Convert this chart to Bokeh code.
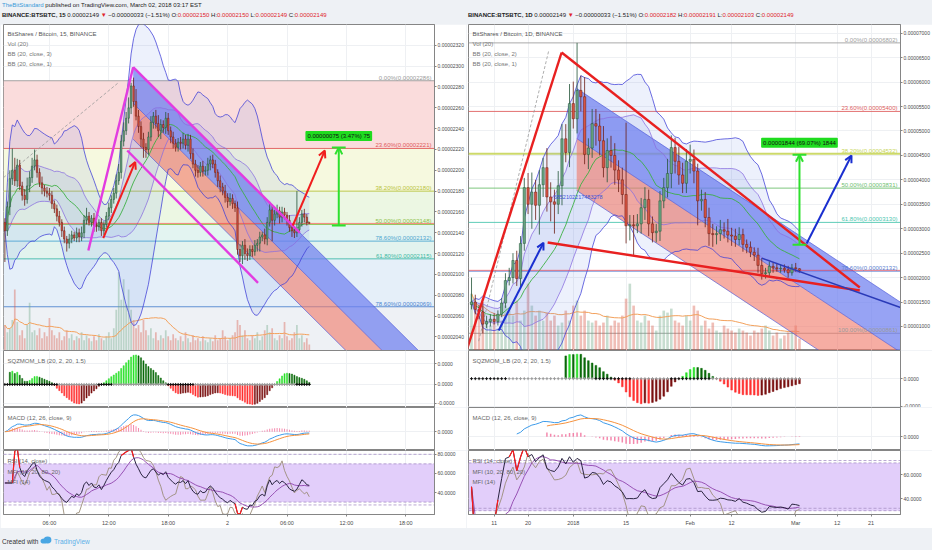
import numpy as np
import pandas as pd
from bokeh.plotting import figure
from bokeh.layouts import column, row
from bokeh.models import (Range1d, FixedTicker, CustomJSTickFormatter, PrintfTickFormatter,
                          Label, Arrow, OpenHead, Div)
from bokeh.core.properties import value
from bokeh.embed import file_html
from bokeh.resources import INLINE

FONT = "Liberation Sans"

# ======================= LEFT: BTSBTC 15 min (prices in satoshi) =======================
l_first_hour = 1.5          # hours after Mar 1 00:00 of the first bar
l_bar_hours = 0.25
l_open_first = 2150
l_close = [2142, 2165, 2192, 2200, 2190, 2205, 2185, 2176, 2172, 2185,
           2193, 2204, 2210, 2198, 2188, 2183, 2180, 2178, 2176, 2168,
           2163, 2156, 2150, 2142, 2134, 2130, 2134, 2138, 2135, 2140,
           2136, 2140, 2152, 2156, 2150, 2154, 2147, 2146, 2150, 2142,
           2148, 2156, 2164, 2172, 2178, 2190, 2198, 2228, 2238, 2250,
           2260, 2281, 2266, 2252, 2242, 2230, 2222, 2220, 2232, 2246,
           2252, 2245, 2238, 2244, 2241, 2250, 2238, 2232, 2226, 2222,
           2227, 2226, 2230, 2224, 2230, 2216, 2206, 2200, 2198, 2204,
           2199, 2200, 2206, 2210, 2206, 2198, 2190, 2184, 2180, 2174,
           2170, 2173, 2168, 2164, 2124, 2118, 2128, 2120, 2118, 2124,
           2122, 2128, 2130, 2136, 2138, 2134, 2150, 2162, 2152, 2158,
           2161, 2155, 2160, 2157, 2152, 2145, 2142, 2140, 2143, 2150,
           2158, 2155, 2150, 2149]
l_upper_wick = [4, 5, 8, 21, 12, 6, 5, 4, 6, 8,
                6, 8, 10, 5, 4, 6, 3, 4, 5, 4,
                3, 4, 5, 3, 4, 3, 5, 4, 3, 5,
                4, 6, 5, 8, 4, 3, 5, 4, 3, 4,
                3, 4, 5, 4, 5, 6, 8, 6, 8, 6,
                10, 3, 8, 12, 6, 5, 6, 4, 5, 6,
                4, 6, 8, 5, 4, 6, 5, 4, 5, 4,
                4, 5, 6, 4, 5, 4, 5, 4, 5, 4,
                5, 4, 6, 4, 5, 4, 3, 5, 4, 6,
                4, 5, 4, 3, 6, 5, 4, 6, 5, 4,
                4, 5, 4, 5, 3, 6, 5, 8, 5, 4,
                6, 4, 5, 4, 3, 5, 4, 3, 37, 5,
                4, 5, 3, 0]
l_lower_wick = [30, 5, 8, 6, 5, 6, 4, 5, 6, 4,
                6, 5, 4, 5, 4, 6, 5, 4, 5, 5,
                4, 5, 4, 6, 4, 8, 5, 4, 3, 4,
                5, 4, 5, 4, 3, 4, 6, 5, 4, 5,
                4, 3, 4, 5, 4, 5, 4, 6, 5, 4,
                5, 6, 5, 4, 6, 8, 10, 8, 5, 4,
                6, 5, 6, 8, 5, 6, 4, 6, 5, 4,
                4, 6, 5, 4, 6, 5, 4, 6, 5, 4,
                5, 4, 5, 6, 4, 5, 6, 5, 4, 5,
                6, 4, 5, 4, 5, 6, 8, 6, 5, 4,
                5, 4, 6, 8, 4, 5, 6, 4, 20, 5,
                4, 6, 5, 4, 5, 4, 6, 5, 4, 3,
                4, 5, 3, 0]
l_volume = [25, 18, 22, 30, 60, 28, 15, 20, 12, 25,
            47, 18, 20, 15, 22, 12, 18, 14, 32, 20,
            15, 12, 18, 10, 14, 20, 12, 16, 10, 14,
            12, 18, 10, 15, 12, 9, 14, 10, 16, 12,
            10, 14, 18, 12, 22, 40, 77, 50, 70, 45,
            60, 40, 30, 22, 25, 18, 30, 20, 15, 22,
            12, 18, 10, 15, 12, 20, 14, 10, 16, 12,
            10, 14, 9, 18, 12, 8, 15, 10, 12, 9,
            14, 10, 8, 12, 9, 15, 10, 12, 20, 14,
            10, 12, 15, 18, 30, 25, 15, 20, 12, 10,
            15, 12, 18, 10, 14, 20, 25, 18, 22, 12,
            10, 15, 12, 28, 14, 10, 12, 18, 25, 12,
            15, 8, 12, 6]
l_x_ticks = [6, 12, 18, 24, 30, 36, 42]
l_x_labels = ["06:00", "12:00", "18:00", "2", "06:00", "12:00", "18:00"]
l_x_range = [1.36, 44.9]
l_y_range = [2027, 2340]
l_y_ticks = [2040, 2060, 2080, 2100, 2120, 2140, 2160, 2180, 2200, 2220, 2240, 2260, 2280, 2300, 2320]
l_fib_levels = [2286, 2221, 2180, 2148, 2132, 2115, 2069]
l_fib_names = ["0.00%", "23.60%", "38.20%", "50.00%", "78.60%", "61.80%", "78.60%"]
l_fib_colors = ["#9a9a9a", "#e05a5a", "#b9c43c", "#8cc04a", "#4da6cf", "#3cb8a4", "#4f86cf"]
l_fib_zone_colors = ["#fadcdc", "#f6f9df", "#ecf7e3", "#e3f4f1", "#e2f3ee", "#e5eff9", "#eef1f5"]
l_trend_dashed = ([1.36, 12.95], [2193, 2284])
l_pink_lines = [((9.93, 2123), (14.46, 2299)),
                ((14.46, 2299), (31.3, 2140)),
                ((13.86, 2219), (27.07, 2092))]
l_band_anchor = (14.46, 2299)
l_band_slope = -9.44          # satoshi per hour
l_band_widths = [34.6, 34.6]  # blue, red
l_arrows = [((11.44, 2135), (14.67, 2208)), ((30.59, 2147), (33.82, 2219))]
l_arrow_color = "#f01e1e"
l_measure = (35.23, 2147, 2222)
l_measure_label = ("0.00000075 (3.47%) 75", 2233)
l_last_price = 2149
l_title = ["BitShares / Bitcoin, 15, BINANCE", "Vol (20)", "BB (20, close, 3)", "BB (20, close, 1)"]
l_bb_mults = [3, 1]

# ======================= RIGHT: BTSBTC 1 day =======================
r_first_day = -27           # days from 2018-01-01 of the first bar
r_open_first = 1450
r_close = [1500, 1350, 1300, 1050, 1100, 1150, 1100, 1250, 1480, 1940,
           2000, 2350, 1980, 2700, 3840, 3500, 3750, 3480, 3900, 4250,
           3650, 3550, 3500, 3880, 4840, 4560, 5560, 5250, 5830, 5700,
           4520, 4650, 5150, 5100, 4800, 4250, 4600, 4500, 4200, 4000,
           3700, 3060, 3080, 3060, 3100, 3430, 3600, 3100, 2920, 2950,
           3570, 3840, 4130, 4660, 4380, 4100, 3930, 4380, 4420, 4180,
           3570, 3600, 3230, 2900, 2880, 2900, 2980, 2950, 2870, 2850,
           2780, 2880, 2680, 2620, 2520, 2460, 2250, 2080, 2100, 2230,
           2200, 2180, 2190, 2160, 2100, 2200, 2182, 2149]
r_upper_wick = [500, 150, 100, 200, 120, 100, 120, 80, 100, 150,
                200, 150, 200, 150, 200, 300, 400, 250, 300, 200,
                400, 300, 250, 300, 300, 300, 400, 450, 972, 300,
                400, 200, 300, 300, 250, 300, 250, 300, 250, 200,
                250, 1470, 200, 200, 200, 200, 250, 200, 150, 150,
                200, 200, 300, 250, 200, 300, 250, 250, 300, 200,
                150, 200, 150, 200, 200, 150, 200, 150, 250, 150,
                150, 150, 120, 100, 120, 100, 150, 150, 100, 100,
                80, 100, 80, 80, 80, 80, 100, 9]
r_lower_wick = [100, 100, 150, 190, 80, 100, 60, 80, 60, 100,
                100, 120, 150, 200, 150, 200, 500, 300, 600, 250,
                300, 400, 600, 200, 400, 200, 300, 200, 300, 300,
                200, 300, 200, 400, 300, 200, 300, 250, 300, 250,
                200, 360, 300, 600, 150, 200, 250, 250, 200, 200,
                200, 150, 200, 300, 250, 200, 200, 200, 250, 250,
                500, 200, 200, 250, 250, 200, 150, 150, 150, 200,
                150, 120, 150, 120, 100, 120, 150, 120, 100, 80,
                100, 60, 80, 60, 100, 60, 60, 46]
r_volume = [57, 40, 35, 45, 30, 25, 28, 22, 30, 45,
            40, 35, 50, 30, 40, 67, 45, 35, 40, 30,
            38, 30, 35, 25, 28, 40, 30, 45, 50, 35,
            40, 30, 28, 30, 25, 28, 35, 25, 30, 28,
            35, 52, 67, 45, 30, 28, 35, 30, 25, 20,
            35, 40, 38, 42, 30, 28, 25, 35, 30, 45,
            40, 25, 30, 22, 28, 20, 18, 25, 22, 20,
            18, 22, 20, 18, 15, 20, 18, 22, 25, 20,
            15, 18, 12, 15, 18, 20, 25, 12]
r_x_ticks = [-21, -12, 0, 14, 31, 42, 59, 70, 79]
r_x_labels = ["11", "20", "2018", "15", "Feb", "12", "Mar", "12", "21"]
r_x_range = [-27.8, 86.8]
r_y_range = [509, 7178]
r_y_ticks = [1000, 1500, 2000, 2500, 3000, 3500, 4000, 4500, 5000, 5500, 6000, 6500, 7000]
r_fib_levels = [6802, 5400, 4532, 3831, 3130, 2132, 861]
r_fib_names = ["0.00%", "23.60%", "38.20%", "50.00%", "61.80%", "78.60%", "100.00%"]
r_fib_colors = ["#a0a0a0", "#e06060", "#c8d55a", "#70c070", "#4cc6b0", "#5a80d0", "#9a9a9a"]
r_fib_widths = [1, 1, 2, 1, 1, 1, 1]
r_trend_dashed = ([-25.1, -6.5], [700, 6646])
r_red_lines = [((-28.3, 509), (-3.1, 6605)),
               ((-3.1, 6605), (76.0, 1797)),
               ((-6.8, 2718), (76.0, 1736))]
r_band_anchor = (0.9, 5869)
r_band_slope = -50.9          # satoshi per day
r_band_widths = [1023, 1064]
r_dark_line = ([50, 86.8], [2397, 1388])
r_arrows = [((-19.8, 918), (-7.9, 2714)), ((61.9, 2697), (73.8, 4498))]
r_arrow_color = "#1a2fd0"
r_measure = (60.0, 2670, 4514)
r_measure_label = ("0.00001844 (69.07%) 1844", 4760)
r_note = (-5.2, 3655, "6852102217483278")
r_last_price = 2149
r_title = ["BitShares / Bitcoin, 1D, BINANCE", "Vol (20)", "BB (20, close, 2)", "BB (20, close, 1)"]
r_bb_mults = [2, 1]
r_sqz_start, r_macd_start, r_signal_start = 25, 12, 20

sub_titles = ["SQZMOM_LB (20, 2, 20, 1.5)", "MACD (12, 26, close, 9)",
              "RSI (14, close)", "MFI (10, 20, 80, 20)", "MFI (14)"]
l_rsi_range, r_rsi_range = [17, 84], [26.8, 80.4]
l_rsi_ticks, r_rsi_ticks = [40, 60, 80], [40, 60]
l_rsi_dash, r_rsi_dash = [80, 70, 30, 27], [72, 70, 32, 30]

# ======================= layout sizes =======================
W = 466
H_HEAD, H_MAIN, H_SQZ, H_MACD, H_RSI, H_FOOT = 24, 326, 57, 43, 78, 22

GREEN, RED = "#6ba583", "#d75442"
GREEN_E, RED_E = "#225437", "#6b1d14"


def ohlc(open_first, close, uw, lw):
    c = np.array(close, float)
    o = np.concatenate([[open_first], c[:-1]])
    h = np.maximum(o, c) + np.array(uw, float)
    l = np.minimum(o, c) - np.array(lw, float)
    return o, h, l, c


def bollinger(c, n, k):
    s = pd.Series(c)
    m = s.rolling(n, min_periods=1).mean()
    sd = s.rolling(n, min_periods=1).std(ddof=0)
    return m.values, (m + k * sd).values, (m - k * sd).values


def rsi(c, n=14):
    d = pd.Series(c).diff().fillna(0)
    up = d.clip(lower=0).ewm(alpha=1 / n, adjust=False).mean()
    dn = (-d.clip(upper=0)).ewm(alpha=1 / n, adjust=False).mean()
    return (100 - 100 / (1 + up / dn.replace(0, np.nan))).fillna(50).values


def mfi(h, l, c, v, n=14):
    tp = pd.Series((h + l + c) / 3)
    mf = tp * np.array(v, float)
    d = tp.diff()
    pos = mf.where(d > 0, 0.0).rolling(n, min_periods=1).sum()
    neg = mf.where(d < 0, 0.0).rolling(n, min_periods=1).sum()
    return (100 - 100 / (1 + pos / neg.replace(0, np.nan))).fillna(50).values


def squeeze(c, h, l, n=20, mult=2.0, kc=1.5):
    cs, hs, ls = pd.Series(c), pd.Series(h), pd.Series(l)
    basis = cs.rolling(n, min_periods=1).mean()
    dev = mult * cs.rolling(n, min_periods=1).std(ddof=0)
    rng = (hs - ls).rolling(n, min_periods=1).mean()
    on = ((basis - dev) > (basis - kc * rng)) & ((basis + dev) < (basis + kc * rng))
    off = ((basis - dev) < (basis - kc * rng)) & ((basis + dev) > (basis + kc * rng))
    mid = ((hs.rolling(n, min_periods=1).max() + ls.rolling(n, min_periods=1).min()) / 2 + basis) / 2
    src = (cs - mid).values
    val = np.full(len(c), np.nan)
    for i in range(len(c)):
        seg = src[max(0, i - n + 1):i + 1]
        if len(seg) >= 3:
            xx = np.arange(len(seg))
            a, b = np.polyfit(xx, seg, 1)
            val[i] = a * (len(seg) - 1) + b
    dots = np.where(on, "#111111", np.where(off, "#9a9a9a", "#2962ff"))
    return val, list(dots)


def style(p, ticks, fmt):
    p.background_fill_color = "white"
    p.border_fill_color = "white"
    p.outline_line_color = "#858585"
    p.grid.grid_line_color = "#eef0f3"
    ax = p.yaxis[0]
    ax.ticker = FixedTicker(ticks=ticks)
    ax.formatter = fmt
    p.ygrid.ticker = FixedTicker(ticks=ticks)
    ax.major_label_text_font_size = "5px"
    ax.major_label_text_font = FONT
    ax.major_label_text_color = "#4a4a4a"
    ax.axis_line_color = "#858585"
    ax.major_tick_line_color = "#858585"
    ax.major_tick_in = 0
    ax.major_tick_out = 2
    ax.minor_tick_line_color = None
    ax.major_label_standoff = 1


def base_fig(cfg, xr, yr, height, show_x=False):
    p = figure(width=W, height=height, x_range=xr, y_range=yr, output_backend="svg",
               toolbar_location=None, y_axis_location="right",
               min_border_left=cfg["bl"], min_border_right=cfg["br"], min_border_top=0,
               min_border_bottom=0)
    xticks = cfg["xticks"]
    p.xgrid.ticker = FixedTicker(ticks=xticks)
    xa = p.xaxis[0]
    xa.ticker = FixedTicker(ticks=xticks)
    xa.major_label_overrides = {t: s for t, s in zip(xticks, cfg["xlabels"])}
    xa.major_label_text_font_size = "5.5px"
    xa.major_label_text_font = FONT
    xa.major_label_text_color = "#4a4a4a"
    xa.axis_line_color = "#858585"
    xa.major_tick_line_color = "#858585"
    xa.major_tick_in = 0
    xa.major_tick_out = 2
    xa.minor_tick_line_color = None
    xa.major_label_standoff = 3
    xa.visible = show_x
    return p


def legend(p, xr, yr, lines, colors, offsets):
    n = len(lines)
    p.text(x=[xr[0]] * n, y=[yr[1]] * n, text=lines, x_offset=4, y_offset=offsets,
           text_font=value(FONT), text_font_size="6px", text_color=colors,
           text_baseline="middle", text_align="left")


def line_ext(anchor, slope, x1):
    x0, y0 = anchor
    return [x0, x1], [y0, y0 + slope * (x1 - x0)]


def build(cfg):
    o, h, l, c = ohlc(cfg["open_first"], cfg["close"], cfg["uw"], cfg["lw"])
    n = len(c)
    t = cfg["t0"] + cfg["step"] * np.arange(n)
    bw = cfg["step"]
    vol = np.array(cfg["volume"], float)
    xr0, xr1 = cfg["xrange"]
    yr0, yr1 = cfg["yrange"]
    xr = Range1d(xr0, xr1)
    sat_fmt = CustomJSTickFormatter(code="return (tick*1e-8).toFixed(8);")

    # ---------------- main price pane ----------------
    p = base_fig(cfg, xr, Range1d(yr0, yr1), H_MAIN)
    style(p, cfg["yticks"], sat_fmt)
    lv = cfg["fib_levels"]
    if cfg.get("zones"):
        tops = lv
        bots = lv[1:] + [yr0]
        p.quad(left=xr0, right=xr1, top=tops, bottom=bots, fill_color=cfg["zones"], line_color=None)
    p.segment(x0=[xr0] * len(lv), x1=[xr1] * len(lv), y0=lv, y1=lv, line_color=cfg["fib_colors"],
              line_width=cfg.get("fib_widths", 1), line_alpha=0.9)
    # volume
    p.extra_y_ranges = {"vol": Range1d(0, vol.max() / cfg["vol_frac"])}
    up = c >= o
    p.vbar(x=t, width=bw * 0.7, top=vol, bottom=0, y_range_name="vol",
           fill_color=[GREEN if u else RED for u in up], line_color=None, fill_alpha=0.38)
    p.line(t, pd.Series(vol).rolling(20, min_periods=1).mean().values, y_range_name="vol",
           line_color="#f3a15c", line_width=1)
    # bollinger bands
    m1, u1, d1 = bollinger(c, 20, cfg["bb"][0])
    m2, u2, d2 = bollinger(c, 20, cfg["bb"][1])
    p.varea(x=t, y1=u1, y2=d1, fill_color="#6f88e6", fill_alpha=0.12)
    p.varea(x=t, y1=u2, y2=d2, fill_color="#6f88e6", fill_alpha=0.14)
    # channel bands
    ux, uy = line_ext(cfg["band_anchor"], cfg["band_slope"], xr1)
    wb, wr = cfg["band_widths"]
    p.patch([ux[0], ux[1], ux[1], ux[0]], [uy[0], uy[1], uy[1] - wb, uy[0] - wb],
            fill_color="#6f7ff0", fill_alpha=0.72, line_color=None)
    p.patch([ux[0], ux[1], ux[1], ux[0]], [uy[0] - wb, uy[1] - wb, uy[1] - wb - wr, uy[0] - wb - wr],
            fill_color="#f07a6a", fill_alpha=0.62, line_color=None)
    for off in (0, wb, wb + wr):
        p.line(ux, [uy[0] - off, uy[1] - off], line_color="#4a55d8", line_width=0.8, line_alpha=0.8)
    p.line(t, u1, line_color="#3f3fd8", line_width=0.9, line_alpha=0.85)
    p.line(t, d1, line_color="#3f3fd8", line_width=0.9, line_alpha=0.85)
    p.line(t, u2, line_color="#8a6fe0", line_width=0.9, line_alpha=0.85)
    p.line(t, d2, line_color="#8a6fe0", line_width=0.9, line_alpha=0.85)
    p.line(t, m1, line_color="#3cb043", line_width=0.9)
    # fib trend (dashed)
    p.line(cfg["trend"][0], cfg["trend"][1], line_color="#9a9a9a", line_dash="3 2", line_width=0.8)
    # last price line
    p.line([xr0, xr1], [cfg["last"], cfg["last"]], line_color="#ff3030", line_width=0.7, line_alpha=0.8)
    # candles
    edge = [GREEN_E if u else RED_E for u in up]
    p.segment(x0=t, x1=t, y0=h, y1=l, line_color=edge, line_width=0.8)
    p.vbar(x=t, width=bw * cfg["body"], top=np.maximum(o, c), bottom=np.minimum(o, c),
           fill_color=[GREEN if u else RED for u in up], line_color=edge, line_width=0.5)
    # drawings
    for (xa_, ya_), (xb_, yb_) in cfg["draw_lines"]:
        p.line([xa_, xb_], [ya_, yb_], line_color=cfg["draw_color"], line_width=2.4)
    if cfg.get("dark_line"):
        p.line(cfg["dark_line"][0], cfg["dark_line"][1], line_color="#2a3ab8", line_width=1.4)
    for (xa_, ya_), (xb_, yb_) in cfg["arrows"]:
        p.add_layout(Arrow(end=OpenHead(size=7, line_color=cfg["arrow_color"], line_width=2),
                           x_start=xa_, y_start=ya_, x_end=xb_, y_end=yb_,
                           line_color=cfg["arrow_color"], line_width=2))
    mx, my0, my1 = cfg["measure"]
    half = (xr1 - xr0) * 0.016
    p.add_layout(Arrow(end=OpenHead(size=7, line_color="#2ee02e", line_width=2),
                       x_start=mx, y_start=my0, x_end=mx, y_end=my1,
                       line_color="#2ee02e", line_width=2))
    p.segment(x0=[mx - half] * 2, x1=[mx + half] * 2, y0=[my0, my1], y1=[my0, my1],
              line_color="#2ee02e", line_width=2)
    p.add_layout(Label(x=mx, y=cfg["measure_label"][1], text=cfg["measure_label"][0],
                       text_align="center", text_baseline="middle", text_font=FONT,
                       text_font_size="6px", text_color="#111111",
                       background_fill_color="#1fdc1f", padding=2, border_radius=1))
    if cfg.get("note"):
        nx, ny, ntxt = cfg["note"]
        p.text(x=[nx], y=[ny], text=[ntxt], text_font=value(FONT), text_font_size="5.5px",
               text_color="#3a55d8", text_baseline="middle")
    # fib labels
    flabels = [f"{nm}({lvl * 1e-8:.8f})" for nm, lvl in zip(cfg["fib_names"], lv)]
    p.text(x=[xr1] * len(lv), y=lv, text=flabels, x_offset=-3, text_align="right",
           text_baseline="bottom", text_font=value(FONT), text_font_size="6px",
           text_color=cfg["fib_colors"])
    legend(p, (xr0, xr1), (yr0, yr1), cfg["title"], ["#555555", "#777777", "#777777", "#777777"],
           [9, 19, 29, 39])
    # price label on axis
    p.add_layout(Label(x=xr1, y=cfg["last"], x_offset=1, text=f"{cfg['last'] * 1e-8:.8f}",
                       text_baseline="middle", text_align="left", text_font=FONT,
                       text_font_size="5px", text_color="white",
                       background_fill_color="#ff1e1e", padding=1))
    if cfg.get("countdown"):
        p.add_layout(Label(x=xr1, y=cfg["last"] - 9, x_offset=15, text=cfg["countdown"],
                           text_baseline="middle", text_align="left", text_font=FONT,
                           text_font_size="5px", text_color="white",
                           background_fill_color="#ff1e1e", padding=1))

    # ---------------- SQZMOM ----------------
    val, dots = squeeze(c, h, l)
    val[:cfg.get("sqz_start", 0)] = np.nan
    prev = np.concatenate([[np.nan], val[:-1]])
    scol = ["#2be02b" if (v > 0 and v > pv) else "#0a6a0a" if v > 0 else
            "#ff3030" if (v < pv) else "#7a1010" for v, pv in zip(val, prev)]
    hi, lo = np.nanmax(val) * 1.15, np.nanmin(val) * 1.15
    q = base_fig(cfg, xr, Range1d(lo, hi), H_SQZ)
    style(q, cfg["sqz_ticks"](lo, hi, np.nanmin(val), np.nanmax(val)),
          CustomJSTickFormatter(code="return (tick*1e-8).toFixed(4);"))
    q.vbar(x=t, width=bw * 0.45, top=val, bottom=0, fill_color=scol, line_color=scol, line_width=0.5)
    q.scatter(x=t, y=np.zeros(n), marker="cross", size=3, line_color=dots, line_width=1)
    legend(q, (xr0, xr1), (lo, hi), [sub_titles[0]], ["#666666"], [10])

    # ---------------- MACD ----------------
    cs = pd.Series(c)
    macd = (cs.ewm(span=12, adjust=False).mean() - cs.ewm(span=26, adjust=False).mean()).values
    sig = pd.Series(macd).ewm(span=9, adjust=False).mean().values
    macd = macd.copy()
    macd[:cfg.get("macd_start", 0)] = np.nan
    sig[:cfg.get("signal_start", 0)] = np.nan
    hist = macd - sig
    allv = np.concatenate([macd, sig, hist])
    mhi, mlo = np.nanmax(allv), np.nanmin(allv)
    pad = (mhi - mlo) * 0.15
    mr = base_fig(cfg, xr, Range1d(mlo - pad, mhi + pad * 1.6), H_MACD)
    style(mr, [0], CustomJSTickFormatter(code="return (tick*1e-8).toFixed(4);"))
    mr.vbar(x=t, width=bw * 0.4, top=hist, bottom=0, fill_color="#f06292", line_color=None, fill_alpha=0.75)
    mr.line(t, macd, line_color="#3d9be9", line_width=1)
    mr.line(t, sig, line_color="#f5923e", line_width=1)
    legend(mr, (xr0, xr1), (mlo - pad, mhi + pad * 1.6), [sub_titles[1]], ["#666666"], [10])

    # ---------------- RSI ----------------
    rr0, rr1 = cfg["rsi_range"]
    rp = base_fig(cfg, xr, Range1d(rr0, rr1), H_RSI, show_x=True)
    style(rp, cfg["rsi_ticks"], PrintfTickFormatter(format="%.4f"))
    rp.varea(x=[xr0, xr1], y1=[70, 70], y2=[30, 30], fill_color="#e0cbfa", fill_alpha=0.95)
    dl = cfg["rsi_dash"]
    rp.segment(x0=[xr0] * len(dl), x1=[xr1] * len(dl), y0=dl, y1=dl, line_color="#a890c8",
               line_dash="3 2", line_width=0.8)
    r_ = rsi(c)
    mf = mfi(h, l, c, vol)
    rma = pd.Series(r_).rolling(10, min_periods=1).mean().values
    rp.line(t, mf, line_color="#9b8c78", line_width=0.9)
    rp.line(t, rma, line_color="#8e44ad", line_width=0.9)
    rp.line(t, r_, line_color="#2a2440", line_width=1)
    ext = (r_ > 80) | (r_ < 20)
    near = ext | np.concatenate([ext[1:], [False]]) | np.concatenate([[False], ext[:-1]])
    rp.line(t, np.where(near, r_, np.nan), line_color="#ff1a1a", line_width=1.2)
    legend(rp, (xr0, xr1), (rr0, rr1), sub_titles[2:], ["#666666"] * 3, [10, 21, 31])

    return column(p, q, mr, rp, spacing=0)


def l_sqz_ticks(lo, hi, vmin, vmax):
    return [0.7 * vmax, 0, 0.95 * vmin]


def r_sqz_ticks(lo, hi, vmin, vmax):
    return [0, 0.97 * lo]


left_cfg = dict(open_first=l_open_first, close=l_close, uw=l_upper_wick, lw=l_lower_wick,
                volume=l_volume, t0=l_first_hour, step=l_bar_hours, body=0.6, vol_frac=0.24,
                xrange=l_x_range, yrange=l_y_range, xticks=l_x_ticks, xlabels=l_x_labels,
                yticks=l_y_ticks, fib_levels=l_fib_levels, fib_names=l_fib_names,
                fib_colors=l_fib_colors, zones=l_fib_zone_colors, bb=l_bb_mults,
                band_anchor=l_band_anchor, band_slope=l_band_slope, band_widths=l_band_widths,
                trend=l_trend_dashed, last=l_last_price, draw_lines=l_pink_lines,
                draw_color="#e23ce0", arrows=l_arrows, arrow_color=l_arrow_color,
                measure=l_measure, measure_label=l_measure_label, title=l_title,
                countdown="12:34", sqz_ticks=l_sqz_ticks, rsi_range=l_rsi_range,
                rsi_ticks=l_rsi_ticks, rsi_dash=l_rsi_dash, bl=3, br=31)

right_cfg = dict(open_first=r_open_first, close=r_close, uw=r_upper_wick, lw=r_lower_wick,
                 volume=r_volume, t0=r_first_day, step=1.0, body=0.62, vol_frac=0.205,
                 xrange=r_x_range, yrange=r_y_range, xticks=r_x_ticks, xlabels=r_x_labels,
                 yticks=r_y_ticks, fib_levels=r_fib_levels, fib_names=r_fib_names,
                 fib_colors=r_fib_colors, fib_widths=r_fib_widths, bb=r_bb_mults,
                 band_anchor=r_band_anchor, band_slope=r_band_slope, band_widths=r_band_widths,
                 trend=r_trend_dashed, last=r_last_price, draw_lines=r_red_lines,
                 draw_color="#e82020", dark_line=r_dark_line, arrows=r_arrows,
                 arrow_color=r_arrow_color, measure=r_measure, measure_label=r_measure_label,
                 note=r_note, title=r_title, sqz_start=r_sqz_start, macd_start=r_macd_start,
                 signal_start=r_signal_start, sqz_ticks=r_sqz_ticks, rsi_range=r_rsi_range,
                 rsi_ticks=r_rsi_ticks, rsi_dash=r_rsi_dash, bl=2, br=32)

RD = "color:#e0242b"
head_style = {"font-family": FONT, "font-size": "6px", "line-height": "10px", "color": "#222",
              "padding-top": "0px", "padding-left": "2px", "white-space": "nowrap"}


def quote_line(tf, o, h, l, c):
    return (f"<b>BINANCE:BTSBTC, {tf}</b> 0.00002149 <span style='{RD}'>&#9660;</span> "
            f"&minus;0.00000033 (&minus;1.51%) O:<span style='{RD}'>{o}</span> "
            f"H:<span style='{RD}'>{h}</span> L:<span style='{RD}'>{l}</span> "
            f"C:<span style='{RD}'>{c}</span>")


left_head = Div(text=("<span style='color:#3a9ad9'>TheBitStandard</span> published on "
                      "TradingView.com, March 02, 2018 03:17 EST<br>" +
                      quote_line("15", "0.00002150", "0.00002150", "0.00002149", "0.00002149")),
                width=W, height=H_HEAD, margin=0, styles=head_style)
right_head = Div(text="&nbsp;<br>" + quote_line("1D", "0.00002182", "0.00002191", "0.00002103", "0.00002149"),
                 width=W, height=H_HEAD, margin=0, styles=head_style)
footer = Div(text=("<span style='color:#333'>Created with</span> "
                   "<svg width='12' height='8' viewBox='0 0 12 8'>"
                   "<ellipse cx='4' cy='5' rx='3.5' ry='2.6' fill='#49a6e3'/>"
                   "<ellipse cx='7.6' cy='4' rx='3.8' ry='3.4' fill='#49a6e3'/></svg> "
                   "<span style='color:#5cb0e8'>TradingView</span>"),
             width=2 * W, height=H_FOOT, margin=0,
             styles={"font-family": FONT, "font-size": "6.5px", "padding-top": "8px",
                     "padding-left": "2px"})

left_col = column(left_head, build(left_cfg), spacing=0)
right_col = column(right_head, build(right_cfg), spacing=0)
layout = column(row(left_col, right_col, spacing=0), footer, spacing=0,
                styles={"background-color": "#eef1f5"})

open("out.html", "w").write(file_html(layout, INLINE))
